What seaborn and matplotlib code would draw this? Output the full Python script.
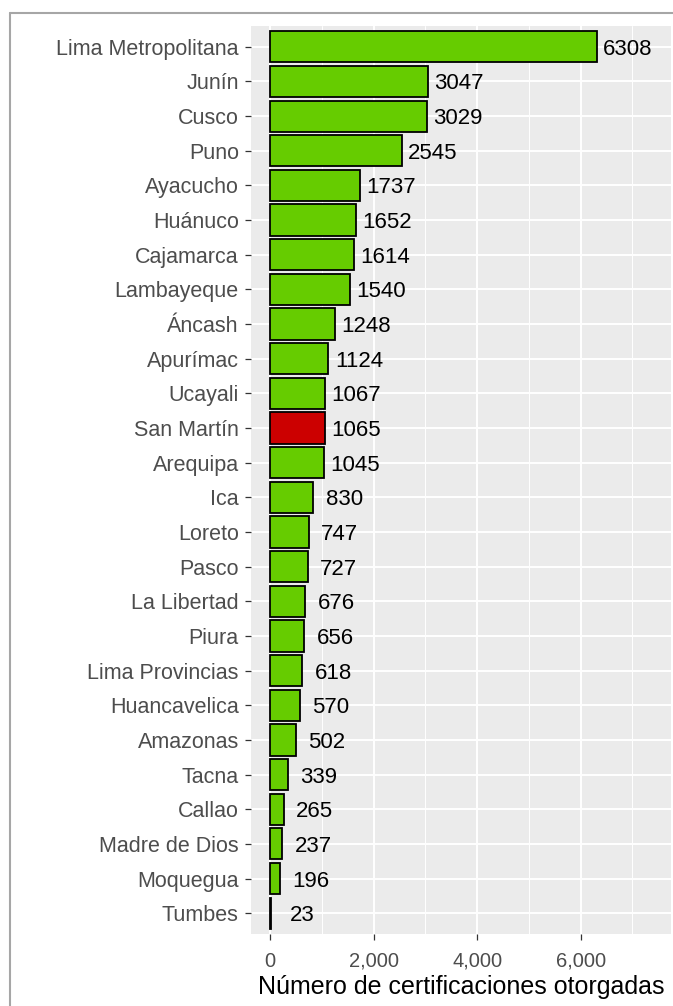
import matplotlib
matplotlib.use("Agg")
import matplotlib.pyplot as plt
from matplotlib.lines import Line2D
from matplotlib.ticker import FuncFormatter, MultipleLocator
import seaborn as sns
import pandas as pd

regions = ["Lima Metropolitana", "Junín", "Cusco", "Puno", "Ayacucho", "Huánuco",
           "Cajamarca", "Lambayeque", "Áncash", "Apurímac", "Ucayali", "San Martín",
           "Arequipa", "Ica", "Loreto", "Pasco", "La Libertad", "Piura",
           "Lima Provincias", "Huancavelica", "Amazonas", "Tacna", "Callao",
           "Madre de Dios", "Moquegua", "Tumbes"]
values = [6308, 3047, 3029, 2545, 1737, 1652, 1614, 1540, 1248, 1124, 1067, 1065,
          1045, 830, 747, 727, 676, 656, 618, 570, 502, 339, 265, 237, 196, 23]
highlight = "San Martín"
x_ticks = [0, 2000, 4000, 6000]
x_label = "Número de certificaciones otorgadas"

GREEN = "#66CC00"
RED = "#CC0000"

df = pd.DataFrame({"region": regions, "value": values})
palette = {r: (RED if r == highlight else GREEN) for r in regions}

sns.set_theme(style="darkgrid")
plt.rcParams["font.family"] = ["Liberation Sans", "DejaVu Sans"]

W, H = 673, 1006
fig = plt.figure(figsize=(W / 100, H / 100), dpi=100)
fig.patch.set_facecolor("white")
pl, pr, pt, pb = 251, 671, 26, 934
ax = fig.add_axes([pl / W, 1 - pb / H, (pr - pl) / W, (pb - pt) / H])

sns.barplot(data=df, x="value", y="region", hue="region", palette=palette,
            legend=False, orient="h", width=0.9, saturation=1,
            edgecolor="black", linewidth=1.3, ax=ax, zorder=3)

ax.set_facecolor("#EBEBEB")
for s in ax.spines.values():
    s.set_visible(False)

ax.set_xlim(-368, 7745)
ax.set_ylim(len(regions) - 0.4, -0.6)
ax.set_xticks(x_ticks)
ax.xaxis.set_minor_locator(MultipleLocator(1000))
ax.xaxis.set_major_formatter(FuncFormatter(lambda v, p: f"{int(v):,}"))
ax.set_axisbelow(True)
ax.grid(True, which="major", axis="both", color="white", linewidth=1.4, zorder=0)
ax.grid(True, which="minor", axis="x", color="white", linewidth=0.7, zorder=0)

ax.tick_params(axis="y", which="major", length=4.3, width=0.9, color="#333333",
               labelsize=15.5, labelcolor="#4D4D4D", pad=4.5, left=True)
ax.tick_params(axis="x", which="major", length=4.3, width=0.9, color="#333333",
               labelsize=14.5, labelcolor="#4D4D4D", pad=8.5, bottom=True)
ax.tick_params(axis="x", which="minor", length=0, bottom=False)

ax.set_ylabel("")
ax.set_xlabel(x_label, fontsize=18, color="black", labelpad=3)

for i, v in enumerate(values):
    ax.text(v + 600, i, str(v), ha="center", va="center_baseline",
            fontsize=16, color="black", zorder=4)

# outer border (cropped plot frame)
fig.add_artist(Line2D([10 / W, 1.0], [1 - 13 / H, 1 - 13 / H],
                      transform=fig.transFigure, color="#A6A6A6", linewidth=1.5))
fig.add_artist(Line2D([10 / W, 10 / W], [1 - 13 / H, 0.0],
                      transform=fig.transFigure, color="#A6A6A6", linewidth=1.5))

fig.savefig("out.png", dpi=100)
